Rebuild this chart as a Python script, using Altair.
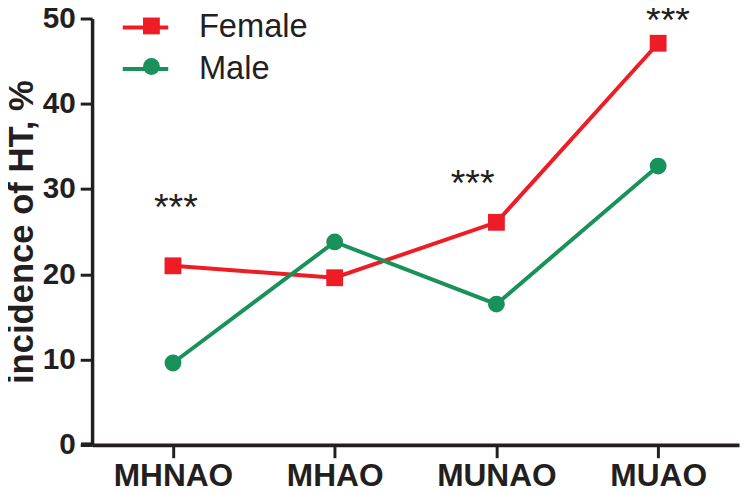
import altair as alt
import pandas as pd

categories = ["MHNAO", "MHAO", "MUNAO", "MUAO"]
female = [21.0, 19.6, 26.1, 47.1]
male = [9.6, 23.8, 16.5, 32.7]
series_names = ["Female", "Male"]

ann_categories = ["MHNAO", "MUNAO", "MUAO"]
ann_values = [28.3, 31.2, 50.3]
ann_labels = ["***", "***", "***"]

RED = "#ee1c25"
GREEN = "#19915a"
FONT = "Liberation Sans"
INK = "#231f20"

df = pd.DataFrame({
    "group": categories * 2,
    "value": female + male,
    "series": [series_names[0]] * len(categories) + [series_names[1]] * len(categories),
})
ann = pd.DataFrame({"group": ann_categories, "value": ann_values, "label": ann_labels})

W, H = 654, 431

x_enc = alt.X(
    "group:N",
    sort=categories,
    scale=alt.Scale(type="point", padding=0.5),
    axis=alt.Axis(
        title=None, labelAngle=0, labelFont=FONT, labelFontWeight="bold",
        labelFontSize=32, labelColor=INK, labelPadding=3, tickSize=13,
        tickWidth=3, tickColor=INK, domainWidth=4, domainColor=INK, grid=False,
    ),
)
y_enc = alt.Y(
    "value:Q",
    scale=alt.Scale(domain=[0, 50], nice=False),
    axis=alt.Axis(
        title="incidence of HT, %", values=[0, 10, 20, 30, 40, 50],
        titleFont=FONT, titleFontWeight="bold", titleFontSize=35, titleColor=INK,
        titlePadding=3, labelFont=FONT, labelFontWeight="bold", labelFontSize=30,
        labelColor=INK, labelPadding=5, tickSize=12, tickWidth=3, tickColor=INK,
        domainWidth=3.5, domainColor=INK, grid=False,
    ),
)

lines = alt.Chart(df).transform_calculate(line_series="datum.series").mark_line(strokeWidth=4).encode(
    x=x_enc, y=y_enc,
    stroke=alt.Stroke("line_series:N", scale=alt.Scale(range=[RED, GREEN]), legend=alt.Legend(
        title=None, orient="none", legendX=29, legendY=-16,
        symbolType="stroke", symbolSize=2116, symbolStrokeWidth=4,
        labelFont=FONT, labelFontSize=33, labelColor=INK, labelOffset=29,
        rowPadding=-6,
    )),
)

pt_legend = alt.Legend(
    title=None, orient="none", legendX=43.5, legendY=-9,
    symbolSize=289, symbolStrokeWidth=0, labelFont=FONT, labelFontSize=33,
    labelColor="transparent", rowPadding=7, symbolOpacity=1,
)
points = alt.Chart(df).mark_point(filled=True, size=289, opacity=1).encode(
    x=x_enc, y=y_enc,
    color=alt.Color("series:N", scale=alt.Scale(domain=series_names, range=[RED, GREEN]), legend=pt_legend),
    shape=alt.Shape("series:N", scale=alt.Scale(domain=series_names, range=["square", "circle"]), legend=pt_legend),
)

left_ext = alt.Chart(df).mark_rule(strokeWidth=4, color=INK).encode(
    x=alt.value(-11), x2=alt.value(0), y=alt.value(H)
)

ann_layers = []
shifts = {"MHNAO": 3, "MUNAO": -24, "MUAO": 10}
for cat in ann_categories:
    ann_layers.append(
        alt.Chart(ann[ann["group"] == cat]).mark_text(
            font=FONT, fontSize=38, color=INK, baseline="middle", dx=shifts[cat], dy=6,
        ).encode(x=alt.X("group:N", sort=categories), y=alt.Y("value:Q"), text="label:N")
    )

chart = alt.layer(left_ext, lines, points, *ann_layers).properties(
    width=W, height=H,
    autosize=alt.AutoSizeParams(type="none"),
    padding={"left": 85, "top": 8, "right": 2, "bottom": 45},
).configure_view(stroke=None, clip=False)

chart.save("out.html", embed_options={"renderer": "svg", "actions": False})
